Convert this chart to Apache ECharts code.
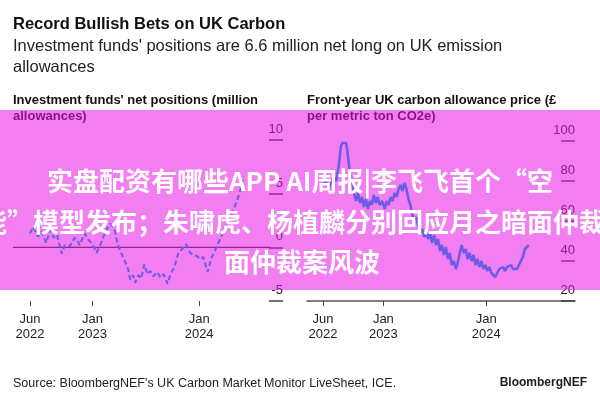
<!DOCTYPE html>
<html>
<head>
<meta charset="utf-8">
<script src="https://cdn.jsdelivr.net/npm/echarts@6/dist/echarts.min.js"></script>
<style>
html,body{margin:0;padding:0;background:#fff;}
#c{width:600px;height:400px;}
</style>
</head>
<body>
<div id="c"></div>
<script>
// ---- data ----
const tickDates = ['2022-06-01', '2023-01-01', '2024-01-01'];
const tickLabels = ['Jun\n2022', 'Jan\n2023', 'Jan\n2024'];

const fundDates = ['2022-06-01','2022-06-12','2022-06-28','2022-07-10','2022-07-27','2022-08-08','2022-08-22','2022-09-01','2022-09-18','2022-09-28','2022-10-15','2022-11-01','2022-11-12','2022-11-18','2022-12-05','2022-12-15','2023-01-01','2023-01-15','2023-01-29','2023-02-15','2023-03-03','2023-03-17','2023-03-27','2023-04-06','2023-04-20','2023-05-03','2023-05-10','2023-05-20','2023-05-27','2023-06-07','2023-06-17','2023-06-27','2023-07-08','2023-07-18','2023-07-28','2023-08-11','2023-08-21','2023-09-01','2023-09-08','2023-09-15','2023-09-25','2023-10-09','2023-10-22','2023-11-03','2023-11-17','2023-12-01','2023-12-11','2023-12-24','2024-01-05','2024-01-15','2024-01-30','2024-02-12','2024-03-05','2024-03-25','2024-04-15','2024-05-02','2024-05-18','2024-06-01'];
const fundValues = [1.3,1.9,1.0,1.5,0.4,1.6,0.9,1.2,-0.6,0.2,0.1,0.9,0.6,0.2,1.3,0.8,0.3,-0.5,0.3,1.5,2.2,1.8,0.4,-0.3,-1.2,-2.0,-3.0,-2.6,-3.3,-2.6,-2.9,-1.6,-2.5,-2.2,-2.7,-2.3,-2.8,-2.5,-2.9,-3.4,-2.5,-1.8,-0.5,-0.2,0.3,-0.5,-0.7,-0.8,-1.1,-0.9,-2.3,-1.0,0.3,1.5,2.8,3.8,5.0,6.6];

const priceDates = ['2022-06-01','2022-06-10','2022-06-20','2022-06-30','2022-07-08','2022-07-18','2022-07-27','2022-08-03','2022-08-08','2022-08-15','2022-08-22','2022-08-26','2022-09-01','2022-09-07','2022-09-13','2022-09-20','2022-09-26','2022-10-03','2022-10-10','2022-10-17','2022-10-24','2022-10-31','2022-11-07','2022-11-14','2022-11-21','2022-11-28','2022-12-05','2022-12-12','2022-12-19','2022-12-28','2023-01-06','2023-01-13','2023-01-20','2023-01-27','2023-02-03','2023-02-10','2023-02-17','2023-02-24','2023-03-03','2023-03-10','2023-03-17','2023-03-24','2023-03-31','2023-04-07','2023-04-14','2023-04-21','2023-04-28','2023-05-05','2023-05-12','2023-05-19','2023-05-26','2023-06-02','2023-06-09','2023-06-16','2023-06-23','2023-06-30','2023-07-07','2023-07-14','2023-07-21','2023-07-28','2023-08-04','2023-08-11','2023-08-18','2023-08-25','2023-09-01','2023-09-08','2023-09-15','2023-09-22','2023-09-29','2023-10-06','2023-10-13','2023-10-20','2023-10-27','2023-11-03','2023-11-10','2023-11-17','2023-11-24','2023-12-01','2023-12-08','2023-12-15','2023-12-22','2023-12-29','2024-01-05','2024-01-12','2024-01-19','2024-01-26','2024-02-02','2024-02-09','2024-02-16','2024-02-23','2024-03-01','2024-03-08','2024-03-15','2024-03-22','2024-03-29','2024-04-05','2024-04-12','2024-04-19','2024-04-26','2024-05-03','2024-05-10','2024-05-17','2024-05-24','2024-05-31'];
const priceValues = [78,80,76,79,82,80,88,97,99,98,99,95,88,82,78,73,70,74,69,72,67,71,66,70,68,73,69,72,68,70,66,70,68,72,70,74,72,76,78,75,79,76,71,68,63,60,62,57,54,56,52,55,51,54,49,53,48,51,45,48,43,47,41,44,38,40,36,39,44,48,44,46,41,44,40,43,38,41,37,40,36,38,35,37,34,35,32,34,36,35,37,35,37,36,38,36,37,36,38,37,42,46,45,48];

const fundYTicks = {min: -5, max: 10, interval: 5};
const priceYTicks = {min: 20, max: 100, interval: 20};

// ---- build ----
const ts = d => new Date(d + 'T00:00:00Z').getTime();
const tickTs = tickDates.map(ts);
const fmt = v => { const i = tickTs.indexOf(v); return i >= 0 ? tickLabels[i] : ''; };
const lineColor = '#6b5ce7';
const FONT = '"Liberation Sans", Arial, sans-serif';

function xAx(gi, minD, maxD, showLine) {
  return {
    type: 'value', gridIndex: gi, min: ts(minD), max: ts(maxD), scale: true,
    axisLine: {show: showLine, onZero: false, lineStyle: {color: '#555', width: 1.5}},
    axisTick: {show: true, customValues: tickTs, length: 5, lineStyle: {color: '#444', width: 1}},
    axisLabel: {customValues: tickTs, formatter: fmt, color: '#222', fontSize: 13, lineHeight: 15, margin: 11, fontFamily: FONT},
    splitLine: {show: false}
  };
}
function yAx(gi, t) {
  return {
    type: 'value', gridIndex: gi, position: 'right', min: t.min, max: t.max, interval: t.interval,
    axisLine: {show: false},
    axisTick: {show: true, inside: true, length: 14, lineStyle: {color: '#444', width: 1.5}},
    axisLabel: {inside: true, margin: 0, color: '#222', fontSize: 13, fontFamily: FONT, verticalAlign: 'bottom', padding: [0, 0, 4, 0]},
    splitLine: {show: false}
  };
}

const overlayText = [
  {y: 181, t: '实盘配资有哪些APP AI周报|李飞飞首个“空', x: 300},
  {y: 222, t: '间智能”模型发布；朱啸虎、杨植麟分别回应月之暗面仲裁案风波', x: 306},
  {y: 262, t: '面仲裁案风波', x: 302}
];

const graphics = [
  {type: 'text', left: 13, top: 16, z: 0, style: {text: 'Record Bullish Bets on UK Carbon', font: 'bold 16.5px ' + FONT, fill: '#111'}},
  {type: 'text', left: 13, top: 36, z: 0, style: {text: "Investment funds' positions are 6.6 million net long on UK emission\nallowances", font: '16.5px ' + FONT, fill: '#222', lineHeight: 21}},
  {type: 'text', left: 13, top: 92, z: 0, style: {text: "Investment funds' net positions (million\nallowances)", font: 'bold 13px ' + FONT, fill: '#111', lineHeight: 16}},
  {type: 'text', left: 307, top: 92, z: 0, style: {text: 'Front-year UK carbon allowance price (£\nper metric ton CO2e)', font: 'bold 13px ' + FONT, fill: '#111', lineHeight: 16}},
  {type: 'text', left: 13, top: 377, z: 0, style: {text: "Source: BloombergNEF's UK Carbon Market Monitor LiveSheet, ICE.", font: '12.5px ' + FONT, fill: '#222'}},
  {type: 'text', right: 13, top: 377, z: 0, style: {text: 'BloombergNEF', font: 'bold 12px ' + FONT, fill: '#222'}},
  {type: 'rect', left: 0, top: 110, z: 1, shape: {width: 600, height: 180}, style: {fill: 'rgba(232,20,232,0.55)'}}
].concat(overlayText.map(o => ({
  type: 'text', x: o.x, y: o.y, z: 10,
  style: {text: o.t, font: 'bold 26px "Noto Sans CJK SC", sans-serif', fill: '#fff', align: 'center', verticalAlign: 'middle'}
})));

const chart = echarts.init(document.getElementById('c'), null, {renderer: 'canvas'});
chart.setOption({
  backgroundColor: '#fff',
  animation: false,
  grid: [
    {left: 13, width: 270, top: 140, height: 161},
    {left: 307, width: 268, top: 141, height: 160}
  ],
  xAxis: [xAx(0, '2022-04-04', '2024-10-14', false), xAx(1, '2022-04-05', '2024-11-11', true)],
  yAxis: [yAx(0, fundYTicks), yAx(1, priceYTicks)],
  graphic: graphics,
  series: [
    {type: 'line', xAxisIndex: 0, yAxisIndex: 0, z: 0, symbol: 'none', silent: true,
      data: [[ts('2022-04-04'), 0], [ts('2024-09-01'), 0]],
      lineStyle: {color: '#333', width: 1.2}},
    {type: 'line', xAxisIndex: 0, yAxisIndex: 0, z: 2, symbol: 'none',
      data: fundDates.map((d, i) => [ts(d), fundValues[i]]),
      lineStyle: {color: lineColor, width: 2, type: [5, 3]}},
    {type: 'line', xAxisIndex: 1, yAxisIndex: 1, z: 2, symbol: 'none',
      data: priceDates.map((d, i) => [ts(d), priceValues[i]]),
      lineStyle: {color: lineColor, width: 2.5}}
  ]
});
</script>
</body>
</html>
